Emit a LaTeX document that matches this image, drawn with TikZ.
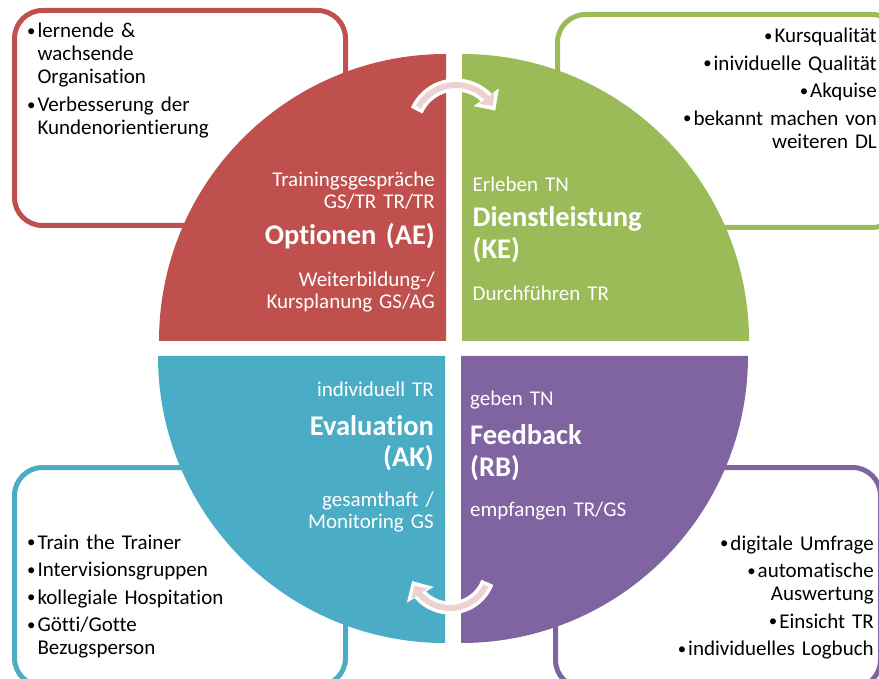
\documentclass[tikz,border=0pt]{standalone}
\usepackage{fontspec}
\setmainfont{Carlito}[Ligatures=NoCommon]
\usetikzlibrary{arrows.meta,bending}

\definecolor{optred}{HTML}{C0504D}
\definecolor{dlgreen}{HTML}{9BBB59}
\definecolor{evblue}{HTML}{4BACC6}
\definecolor{fbpurple}{HTML}{8064A2}
\definecolor{arrowpink}{HTML}{EDD2D2}

\newcommand{\blt}{\raisebox{1.4pt}{\scalebox{0.8}{\textbullet}}\kern2pt}
\newcommand{\hang}{\hphantom{\blt}}

\begin{document}
\begin{tikzpicture}[
  x=1pt, y=-1pt,
  box/.style={line width=5pt,rounded corners=28pt},
  quad/.style={draw=none},
  txt/.style={inner sep=0pt,text width=300pt,text=white,font=\fontsize{21}{21.5}\selectfont},
  ttl/.style={inner sep=0pt,text width=300pt,text=white,font=\fontsize{28.5}{32}\selectfont\bfseries},
  lst/.style={inner sep=0pt,text width=330pt,font=\fontsize{21}{23}\selectfont},
  arrowrim/.style={white,line width=13pt,-{Triangle[length=16pt,width=30pt,flex]}},
  arrowcore/.style={arrowpink,line width=6pt,-{Triangle[length=10pt,width=19pt,flex]}}]
\useasboundingbox (0,0) rectangle (879,679);
\clip (0,0) rectangle (879,679);

% outer boxes
\draw[box,optred] (14.5,10.5) rectangle (345.5,225.5);
\draw[box,dlgreen] (557.5,14.5) rectangle (900,227.5);
\draw[box,evblue] (14.5,467.5) rectangle (345.5,686);
\draw[box,fbpurple] (555.5,467.5) rectangle (880.5,688);

% the four quarters
\fill[quad,optred] (446,341) -- ++(-287,0) arc[start angle=180,end angle=270,radius=287] -- cycle;
\fill[quad,dlgreen] (462,341) -- ++(0,-287) arc[start angle=270,end angle=360,radius=287] -- cycle;
\fill[quad,evblue] (445,356) -- ++(-287,0) arc[start angle=180,end angle=90,radius=287] -- cycle;
\fill[quad,fbpurple] (461,356) -- ++(287,0) arc[start angle=0,end angle=90,radius=287] -- cycle;

% cycle arrows
\coordinate (topc) at (456,128);
\coordinate (botc) at (450,568);
\draw[arrowrim] ([shift={(204:43)}]topc) arc[start angle=204,end angle=336,radius=43];
\draw[arrowcore] ([shift={(209:43)}]topc) arc[start angle=209,end angle=329,radius=43];
\draw[arrowrim] ([shift={(21:40)}]botc) arc[start angle=21,end angle=161,radius=40];
\draw[arrowcore] ([shift={(26:40)}]botc) arc[start angle=26,end angle=154,radius=40];

% red quarter
\node[txt,align=right,anchor=base east] (ae1) at (435,186.7) {Trainingsgespräche\\GS/TR TR/TR};
\node[ttl,align=right,anchor=base east] (ae) at (435,245) {Optionen (AE)};
\node[txt,align=right,anchor=base east] (ae2) at (435,286.7) {Weiterbildung-/\\Kursplanung GS/AG};

% green quarter
\node[txt,align=left,anchor=base west] (ke1) at (472.5,191.7) {Erleben TN};
\node[ttl,align=left,anchor=base west] (ke) at (472.5,226.7) {Dienstleistung\\(KE)};
\node[txt,align=left,anchor=base west] (ke2) at (472.5,300.7) {Durchführen TR};

% blue quarter
\node[txt,align=right,anchor=base east] (ak1) at (434,396) {individuell TR};
\node[ttl,align=right,anchor=base east] (ak) at (434,435) {Evaluation\\(AK)};
\node[txt,align=right,anchor=base east] (ak2) at (434,506.7) {gesamthaft /\\Monitoring GS};

% purple quarter
\node[txt,align=left,anchor=base west] (rb1) at (470,405) {geben TN};
\node[ttl,align=left,anchor=base west] (rb) at (470,444) {Feedback\\(RB)};
\node[txt,align=left,anchor=base west] (rb2) at (470,516.7) {empfangen TR/GS};

% lists in the boxes
\node[lst,align=left,anchor=base west] (aelist) at (27,38)
  {\blt lernende \&\\\hang wachsende\\\hang Organisation\\[4.5pt]
   \blt Verbesserung der\\\hang Kundenorientierung};
\node[lst,align=right,anchor=base east] (kelist) at (877,42.7)
  {\blt Kursqualität\\[4.5pt]\blt inividuelle Qualität\\[4.5pt]
   \blt Akquise\\[4.5pt]\blt bekannt machen von\\weiteren DL};
\node[lst,align=left,anchor=base west] (aklist) at (27,549)
  {\blt Train the Trainer\\[4.5pt]\blt Intervisionsgruppen\\[4.5pt]
   \blt kollegiale Hospitation\\[4.5pt]\blt Götti/Gotte\\\hang Bezugsperson};
\node[lst,align=right,anchor=base east] (rblist) at (874,550)
  {\blt digitale Umfrage\\[4.5pt]\blt automatische\\Auswertung\\[4.5pt]
   \blt Einsicht TR\\[4.5pt]\blt individuelles Logbuch};
\end{tikzpicture}
\end{document}
